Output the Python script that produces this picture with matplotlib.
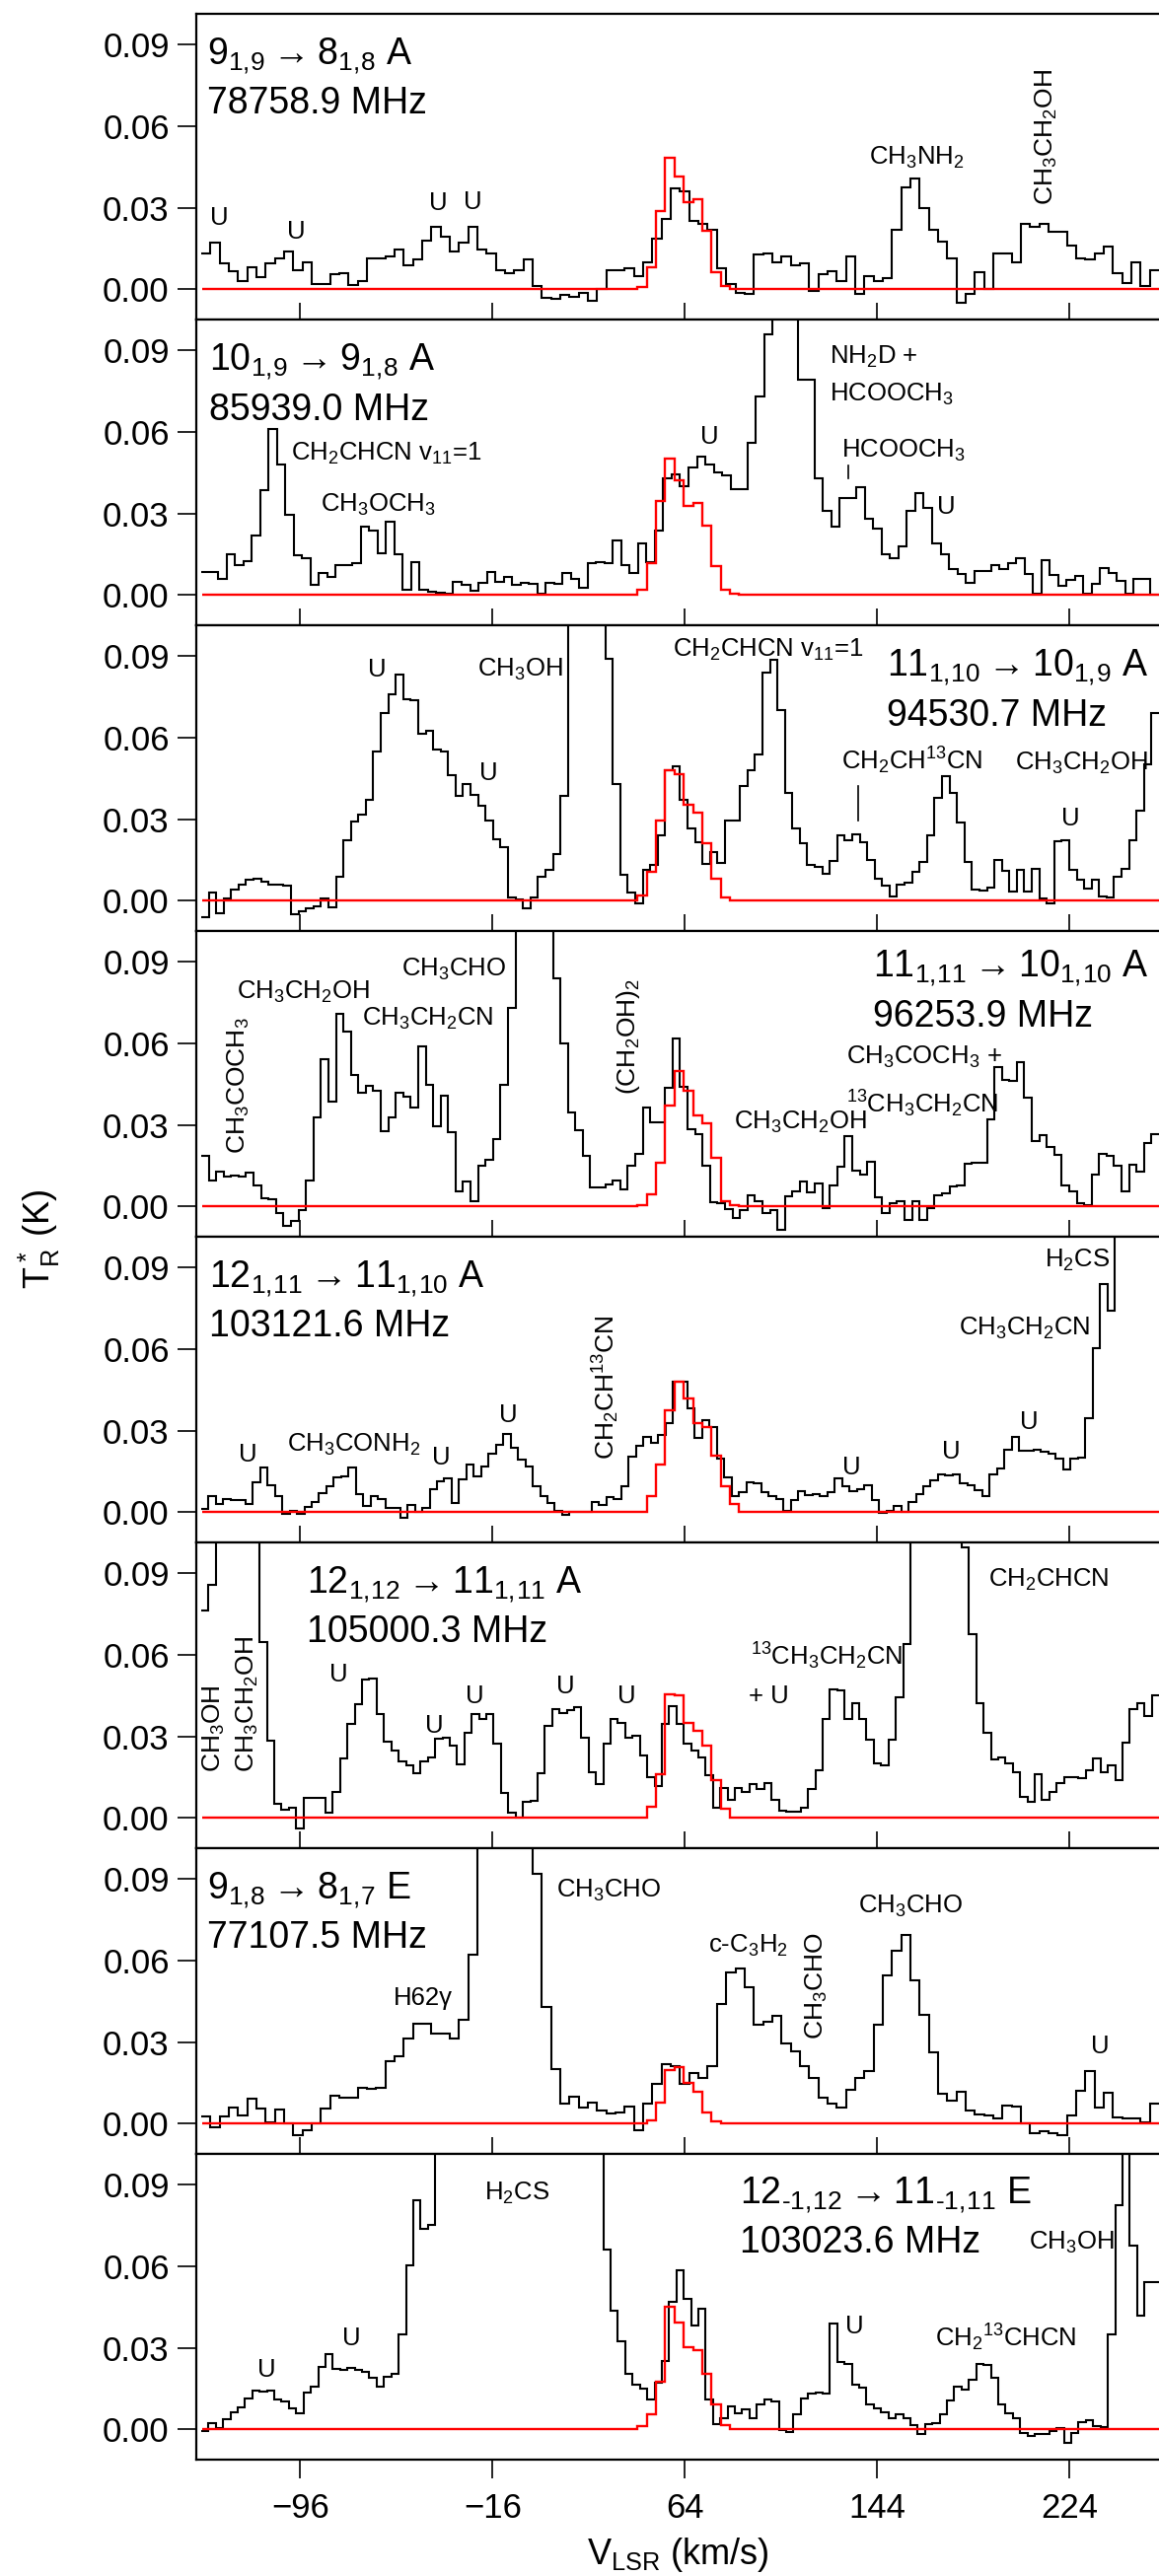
import numpy as np
import matplotlib
matplotlib.use('Agg')
import matplotlib.pyplot as plt

plt.rcParams['font.family'] = ['Liberation Sans', 'DejaVu Sans']
plt.rcParams['mathtext.default'] = 'regular'

# velocity span covered by the observed spectra and the axis window
V_LEFT, V_RIGHT = -137.2, 261.4
XLIM = (-139.4, 261.4)
YLIM = (-0.0111, 0.1012)
OFF = 0.15          # channels running off the top of a panel
MODEL_V0 = 44.35    # first model channel edge (km/s)
MODEL_DV = 3.85     # model channel width (km/s)

TITLES = [r'$9_{1,\!9} \rightarrow 8_{1,\!8}$ A', r'$10_{1,\!9} \rightarrow 9_{1,\!8}$ A',
          r'$11_{1,\!10} \rightarrow 10_{1,\!9}$ A', r'$11_{1,\!11} \rightarrow 10_{1,\!10}$ A',
          r'$12_{1,\!11} \rightarrow 11_{1,\!10}$ A', r'$12_{1,\!12} \rightarrow 11_{1,\!11}$ A',
          r'$9_{1,\!8} \rightarrow 8_{1,\!7}$ E', '$12_{‐1,\\!12} \\rightarrow 11_{‐1,\\!11}$ E']
FREQS = ['78758.9 MHz', '85939.0 MHz', '94530.7 MHz', '96253.9 MHz',
         '103121.6 MHz', '105000.3 MHz', '77107.5 MHz', '103023.6 MHz']

# observed T_R* (K), one value per channel, left to right
OBS_1 = [0.013, 0.017, 0.0097, 0.0065, 0.003, 0.008, 0.0045, 0.0097, 0.0115, 0.014,
         0.007, 0.010, 0.002, 0.002, 0.0055, 0.006, 0.0017, 0.003, 0.0115, 0.0115,
         0.012, 0.0145, 0.009, 0.011, 0.018, 0.023, 0.0195, 0.0138, 0.017, 0.023,
         0.0145, 0.013, 0.007, 0.006, 0.007, 0.011, 0.0012, -0.003, -0.0034, -0.002,
         -0.0028, -0.0012, -0.0042, 0.0002, 0.007, 0.007, 0.0077, 0.0048, 0.0099, 0.0187,
         0.026, 0.0372, 0.036, 0.025, 0.024, 0.0217, 0.0078, 0.002, -0.0012, -0.0016,
         0.0127, 0.0133, 0.010, 0.012, 0.0087, 0.0097, -0.0006, 0.0054, 0.0066, 0.003,
         0.012, -0.0018, 0.0048, 0.003, 0.004, 0.022, 0.0374, 0.0407, 0.030, 0.0217,
         0.0175, 0.0112, -0.0048, -0.0016, 0.0063, 0.000, 0.013, 0.0133, 0.010, 0.024,
         0.023, 0.024, 0.021, 0.021, 0.016, 0.0115, 0.011, 0.0133, 0.0157, 0.006,
         0.0024, 0.010, 0.0012, 0.007]
OBS_2 = [0.0085, 0.0085, 0.006, 0.015, 0.011, 0.0125, 0.022, 0.0385, 0.061, 0.048,
         0.0296, 0.0146, 0.0137, 0.0036, 0.008, 0.0067, 0.011, 0.011, 0.0118, 0.025,
         0.0236, 0.0155, 0.027, 0.015, 0.002, 0.012, 0.002, 0.0013, 0.001, 0.0006,
         0.005, 0.0037, 0.0016, 0.0046, 0.0085, 0.0048, 0.0067, 0.0036, 0.0046, 0.004,
         0.0004, 0.0046, 0.004, 0.008, 0.0058, 0.0028, 0.0118, 0.012, 0.0118, 0.020,
         0.011, 0.0082, 0.019, 0.012, 0.0236, 0.043, 0.0445, 0.040, 0.047, 0.051,
         0.048, 0.045, 0.044, 0.039, 0.039, 0.056, 0.073, 0.0956, OFF, OFF,
         OFF, 0.079, 0.079, 0.043, 0.031, 0.025, 0.0355, 0.0355, 0.0397, 0.028,
         0.0245, 0.015, 0.0134, 0.018, 0.031, 0.0376, 0.032, 0.019, 0.015, 0.0094,
         0.0076, 0.0046, 0.009, 0.009, 0.011, 0.0094, 0.0118, 0.0134, 0.0076, 0.0006,
         0.0128, 0.0072, 0.0034, 0.0054, 0.007, 0.0006, 0.0042, 0.010, 0.0082, 0.0052,
         0.0006, 0.006, 0.0058, 0.0]
OBS_3 = [-0.006, 0.003, -0.0045, 0.001, 0.0042, 0.006, 0.0078, 0.008, 0.007, 0.006,
         0.0058, 0.0054, -0.005, -0.004, -0.0027, -0.002, 0.0007, -0.0023, 0.0088, 0.0224,
         0.029, 0.0318, 0.037, 0.055, 0.069, 0.076, 0.083, 0.074, 0.0735, 0.0614,
         0.0624, 0.0555, 0.0548, 0.0463, 0.0385, 0.0427, 0.039, 0.035, 0.0294, 0.0227,
         0.0197, 0.0013, 0.0006, -0.0027, 0.0013, 0.009, 0.0115, 0.0173, 0.0387, OFF,
         OFF, OFF, OFF, OFF, 0.0888, 0.0427, 0.0094, 0.003, -0.001, 0.0115,
         0.013, 0.024, 0.048, 0.0493, 0.0369, 0.0264, 0.0215, 0.0134, 0.018, 0.0139,
         0.0296, 0.0294, 0.042, 0.048, 0.0538, 0.0838, 0.0886, 0.070, 0.0397, 0.0264,
         0.021, 0.013, 0.0125, 0.010, 0.0146, 0.024, 0.0224, 0.0245, 0.0215, 0.0149,
         0.0082, 0.0054, 0.0016, 0.006, 0.0066, 0.0106, 0.0143, 0.024, 0.0378, 0.0457,
         0.0397, 0.0288, 0.0143, 0.004, 0.0036, 0.0048, 0.0149, 0.011, 0.0034, 0.0115,
         0.0034, 0.0118, 0.001, -0.0008, 0.0219, 0.0221, 0.0112, 0.0076, 0.0046, 0.0076,
         0.0016, 0.0013, 0.0088, 0.0118, 0.0224, 0.033, 0.050, 0.069]
OBS_4 = [0.0185, 0.0097, 0.0127, 0.0109, 0.0115, 0.0109, 0.0124, 0.0079, 0.003, 0.0027,
         -0.0024, -0.0072, -0.0054, -0.0012, 0.0097, 0.0326, 0.054, 0.0387, 0.0709, 0.0644,
         0.0483, 0.0417, 0.0443, 0.0426, 0.0278, 0.0326, 0.0417, 0.0405, 0.0362, 0.0588,
         0.0447, 0.0296, 0.0407, 0.0272, 0.0057, 0.0091, 0.002, 0.0151, 0.0173, 0.0248,
         0.0447, 0.0728, OFF, OFF, OFF, OFF, OFF, 0.0839, 0.0598, 0.0344,
         0.0281, 0.0185, 0.0069, 0.0069, 0.0082, 0.0094, 0.0064, 0.0149, 0.0193, 0.0362,
         0.031, 0.031, 0.0435, 0.0616, 0.044, 0.0284, 0.0266, 0.0151, 0.0016, 0.0012,
         -0.0008, -0.0042, -0.0012, 0.004, 0.002, -0.0024, -0.0012, -0.0085, 0.0036, 0.0054,
         0.0091, 0.0052, 0.0085, -0.0006, 0.0079, 0.0145, 0.026, 0.0133, 0.0117, 0.0165,
         0.0033, -0.0024, 0.0012, 0.002, -0.0048, 0.0018, -0.0048, -0.0006, 0.0042, 0.0048,
         0.0073, 0.0079, 0.0157, 0.016, 0.016, 0.032, 0.0513, 0.0465, 0.0462, 0.053,
         0.0398, 0.0242, 0.0263, 0.0217, 0.019, 0.0079, 0.0054, 0.0012, 0.0006, 0.0117,
         0.0193, 0.0185, 0.0149, 0.0057, 0.0154, 0.0129, 0.0233, 0.0266]
OBS_5 = [0.0012, 0.006, 0.003, 0.0048, 0.0046, 0.0046, 0.003, 0.011, 0.0163, 0.0099,
         0.006, -0.0006, 0.0006, -0.0006, 0.0018, 0.0039, 0.007, 0.0097, 0.0127, 0.0133,
         0.0163, 0.0066, 0.0022, 0.0058, 0.0048, 0.0015, 0.0015, -0.0022, 0.0027, 0.0002,
         0.0015, 0.0085, 0.0115, 0.0123, 0.0034, 0.012, 0.0175, 0.0133, 0.0169, 0.0215,
         0.0248, 0.0287, 0.0236, 0.0193, 0.0167, 0.0094, 0.006, 0.0034, 0.0006, -0.001,
         0.0002, 0.0002, 0.0002, 0.0039, 0.0027, 0.0054, 0.0048, 0.0097, 0.0203, 0.0244,
         0.0278, 0.0254, 0.0284, 0.0329, 0.0481, 0.0481, 0.038, 0.0272, 0.0338, 0.0314,
         0.0196, 0.0127, 0.006, 0.0072, 0.0109, 0.0106, 0.0072, 0.006, 0.0048, 0.0006,
         0.0046, 0.0079, 0.0063, 0.0066, 0.006, 0.0072, 0.0123, 0.0097, 0.0079, 0.0085,
         0.0099, 0.0046, -0.0002, 0.0006, 0.0024, 0.0002, 0.0039, 0.0066, 0.0097, 0.0118,
         0.0139, 0.0135, 0.0139, 0.0106, 0.0099, 0.0082, 0.006, 0.0139, 0.016, 0.023,
         0.0275, 0.0227, 0.0227, 0.023, 0.0223, 0.0215, 0.0196, 0.0157, 0.0196, 0.0199,
         0.0344, 0.0604, 0.0839, 0.0739, OFF, OFF, OFF, OFF, OFF, OFF]
OBS_6 = [0.0761, 0.0857, OFF, OFF, OFF, OFF, OFF, OFF, 0.0646, 0.0284,
         0.0051, 0.003, 0.0036, -0.0039, 0.0072, 0.0075, 0.0072, 0.0018, 0.0094, 0.022,
         0.0344, 0.0417, 0.0507, 0.0513, 0.038, 0.028, 0.0248, 0.0208, 0.0193, 0.0163,
         0.0208, 0.0223, 0.0292, 0.0296, 0.0266, 0.0196, 0.0314, 0.038, 0.0365, 0.038,
         0.0272, 0.0091, 0.0021, 0.0002, 0.006, 0.0063, 0.0163, 0.034, 0.0401, 0.0386,
         0.0396, 0.0408, 0.0296, 0.0169, 0.0123, 0.0272, 0.0365, 0.0348, 0.0296, 0.0302,
         0.023, 0.0151, 0.0118, 0.0344, 0.0411, 0.0344, 0.0272, 0.0248, 0.0223, 0.0157,
         0.0036, 0.0111, 0.0066, 0.0109, 0.0094, 0.0123, 0.0106, 0.0127, 0.0066, 0.0027,
         0.0022, 0.0022, 0.0036, 0.0106, 0.0175, 0.0362, 0.0473, 0.0469, 0.0365, 0.0423,
         0.0365, 0.0287, 0.0199, 0.0193, 0.0287, 0.0444, 0.064, OFF, OFF, OFF,
         OFF, OFF, OFF, OFF, 0.0995, 0.0676, 0.0423, 0.0314, 0.0215, 0.0223,
         0.0199, 0.0167, 0.0079, 0.006, 0.016, 0.0066, 0.0094, 0.0127, 0.0151, 0.0151,
         0.0147, 0.0175, 0.0217, 0.0167, 0.0193, 0.0139, 0.0275, 0.0399, 0.042, 0.0374,
         0.045]
OBS_7 = [0.0027, -0.0014, 0.0027, 0.006, 0.003, 0.0091, 0.0054, 0.0006, 0.0051, 0.0002,
         -0.0042, -0.0024, 0.0, 0.0054, 0.0103, 0.0094, 0.0097, 0.0133, 0.0127, 0.013,
         0.023, 0.0248, 0.0314, 0.0368, 0.0368, 0.0332, 0.0332, 0.0314, 0.038, 0.0622,
         OFF, OFF, OFF, OFF, OFF, OFF, 0.0918, 0.0429, 0.0199, 0.0072,
         0.0099, 0.006, 0.0079, 0.0048, 0.0039, 0.0042, 0.0063, -0.0024, 0.0072, 0.0145,
         0.0217, 0.0211, 0.0145, 0.0187, 0.0167, 0.0211, 0.0441, 0.0556, 0.057, 0.0501,
         0.0362, 0.0374, 0.0395, 0.0296, 0.0266, 0.0211, 0.0167, 0.0097, 0.0072, 0.006,
         0.0123, 0.0167, 0.0193, 0.0365, 0.0546, 0.0634, 0.0694, 0.0525, 0.0399, 0.0263,
         0.0111, 0.0085, 0.0118, 0.0048, 0.0034, 0.003, 0.0018, 0.0066, 0.0063, 0.0,
         -0.0034, -0.0027, -0.0036, -0.0042, 0.003, 0.0121, 0.0193, 0.006, 0.0115, 0.0024,
         0.0018, 0.0018, 0.0006, 0.0072]
OBS_8 = [-0.0006, 0.0022, 0.0006, 0.0036, 0.0064, 0.0081, 0.0115, 0.0142, 0.014, 0.0142,
         0.0109, 0.0103, 0.0079, 0.0061, 0.0137, 0.0158, 0.0231, 0.0275, 0.0224, 0.0218,
         0.0227, 0.0218, 0.0212, 0.0191, 0.0158, 0.0194, 0.0203, 0.0348, 0.0603, 0.0841,
         0.0737, 0.0752, OFF, OFF, OFF, OFF, OFF, OFF, OFF, OFF,
         OFF, OFF, OFF, OFF, OFF, OFF, OFF, OFF, OFF, OFF,
         OFF, OFF, OFF, OFF, OFF, 0.0661, 0.0437, 0.0324, 0.0203, 0.0164,
         0.0149, 0.0109, 0.017, 0.0251, 0.0467, 0.0583, 0.0479, 0.0382, 0.0445, 0.0109,
         0.0021, 0.0042, 0.0085, 0.0061, 0.0073, 0.0042, 0.0091, 0.0109, 0.0101, -0.0004,
         -0.001, 0.0055, 0.0115, 0.013, 0.0137, 0.013, 0.0388, 0.0246, 0.0239, 0.0164,
         0.0155, 0.0091, 0.0079, 0.0064, 0.0042, 0.0057, 0.0042, 0.0016, -0.0018, 0.0021,
         0.0024, 0.0057, 0.0106, 0.0158, 0.0146, 0.0182, 0.0239, 0.0237, 0.0188, 0.0091,
         0.0061, 0.0042, -0.0012, -0.0024, -0.0018, -0.0016, -0.0006, 0.0006, -0.0049, -0.0012,
         0.0028, 0.0033, 0.0012, 0.0008, 0.0348, 0.0825, OFF, 0.0674, 0.0419, 0.054,
         0.054]

# model profiles (red), channels starting at MODEL_V0
MOD_1 = [0.001, 0.008, 0.0286, 0.0483, 0.0414, 0.032, 0.033, 0.0214, 0.0063, 0.0012, 0.0002]
MOD_2 = [0.0018, 0.0118, 0.0345, 0.050, 0.042, 0.0328, 0.034, 0.0255, 0.0106, 0.0018, 0.0006]
MOD_3 = [0.0018, 0.0106, 0.0294, 0.0478, 0.0466, 0.0354, 0.0324, 0.0213, 0.008, 0.0013, 0.0]
MOD_4 = [0.0006, 0.0045, 0.016, 0.037, 0.0497, 0.0426, 0.0335, 0.0306, 0.0179, 0.0018, 0.0006]
MOD_5 = [0.0002, 0.006, 0.0175, 0.0374, 0.048, 0.0417, 0.0326, 0.0314, 0.0209, 0.0097, 0.003, 0.0002]
MOD_6 = [0.0002, 0.004, 0.016, 0.0455, 0.045, 0.035, 0.032, 0.0266, 0.014, 0.0034, 0.0002]
MOD_7 = [0.0, 0.0012, 0.0079, 0.0196, 0.0208, 0.0151, 0.0118, 0.0042, 0.001, 0.0002]
MOD_8 = [0.0012, 0.0055, 0.0174, 0.0449, 0.0391, 0.0303, 0.0291, 0.0203, 0.0091, 0.0016]

OBS = [OBS_1, OBS_2, OBS_3, OBS_4, OBS_5, OBS_6, OBS_7, OBS_8]
MODS = [MOD_1, MOD_2, MOD_3, MOD_4, MOD_5, MOD_6, MOD_7, MOD_8]

# where the transition / frequency text goes (left edge, baselines)
TITLE_POS = [(-134.7, 0.0827, 0.0646), (-133.8, 0.0826, 0.0644), (148.3, 0.0826, 0.0644),
             (142.2, 0.0845, 0.0661), (-133.8, 0.0827, 0.0646), (-93.2, 0.0827, 0.0646),
             (-134.7, 0.0827, 0.0646), (86.8, 0.0831, 0.0649)]

# line identifications: text, v, T, ha, rotation
LABELS = [
    [('U', -129.5, 0.0235, 'center', 0), ('U', -97.8, 0.0187, 'center', 0),
     ('U', -38.7, 0.029, 'center', 0), ('U', -24.0, 0.0296, 'center', 0),
     (r'CH$_3$NH$_2$', 160.6, 0.0459, 'center', 0),
     (r'CH$_3$CH$_2$OH', 214.5, 0.031, 'center', 90)],
    [(r'CH$_2$CHCN v$_{11}$=1', -100.0, 0.0493, 'left', 0),
     (r'CH$_3$OCH$_3$', -87.7, 0.0306, 'left', 0),
     ('U', 74.5, 0.0554, 'center', 0),
     (r'NH$_2$D +', 124.3, 0.085, 'left', 0),
     (r'HCOOCH$_3$', 124.3, 0.0711, 'left', 0),
     (r'HCOOCH$_3$', 129.3, 0.0505, 'left', 0),
     ('U', 173.0, 0.030, 'center', 0)],
    [('U', -64.0, 0.0823, 'center', 0), (r'CH$_3$OH', -22.4, 0.0826, 'left', 0),
     ('U', -17.8, 0.0445, 'center', 0),
     (r'CH$_2$CHCN v$_{11}$=1', 59.1, 0.0898, 'left', 0),
     (r'CH$_2$CH$^{13}$CN', 129.3, 0.0481, 'left', 0),
     (r'CH$_3$CH$_2$OH', 201.3, 0.0481, 'left', 0),
     ('U', 224.7, 0.0276, 'center', 0)],
    [(r'CH$_3$COCH$_3$', -121.8, 0.0193, 'center', 90),
     (r'CH$_3$CH$_2$OH', -122.4, 0.0761, 'left', 0),
     (r'CH$_3$CHO', -53.8, 0.0845, 'left', 0),
     (r'CH$_3$CH$_2$CN', -70.1, 0.0664, 'left', 0),
     (r'(CH$_2$OH)$_2$', 40.6, 0.041, 'center', 90),
     (r'CH$_3$COCH$_3$ +', 131.4, 0.0525, 'left', 0),
     (r'$^{13}$CH$_3$CH$_2$CN', 131.4, 0.0344, 'left', 0),
     (r'CH$_3$CH$_2$OH', 84.6, 0.0284, 'left', 0)],
    [('U', -117.8, 0.0187, 'center', 0), (r'CH$_3$CONH$_2$', -101.5, 0.0223, 'left', 0),
     ('U', -37.2, 0.0175, 'center', 0), ('U', -9.5, 0.0332, 'center', 0),
     (r'CH$_2$CH$^{13}$CN', 31.4, 0.0193, 'center', 90),
     ('U', 133.6, 0.0139, 'center', 0), ('U', 175.1, 0.0196, 'center', 0),
     ('U', 207.4, 0.0304, 'center', 0),
     (r'CH$_3$CH$_2$CN', 178.2, 0.0652, 'left', 0),
     (r'H$_2$CS', 213.9, 0.090, 'left', 0)],
    [(r'CH$_3$OH', -131.7, 0.0169, 'center', 90),
     (r'CH$_3$CH$_2$OH', -117.8, 0.0169, 'center', 90),
     ('U', -80.0, 0.0501, 'center', 0), ('U', -40.3, 0.0314, 'center', 0),
     ('U', -23.4, 0.0423, 'center', 0), ('U', 14.5, 0.0459, 'center', 0),
     ('U', 39.7, 0.0423, 'center', 0),
     (r'$^{13}$CH$_3$CH$_2$CN', 91.4, 0.0562, 'left', 0),
     ('+ U', 90.5, 0.0423, 'left', 0),
     (r'CH$_2$CHCN', 190.5, 0.0851, 'left', 0)],
    [('H62γ', -57.2, 0.0435, 'left', 0), (r'CH$_3$CHO', 10.5, 0.0831, 'left', 0),
     (r'c-C$_3$H$_2$', 73.9, 0.0628, 'left', 0),
     (r'CH$_3$CHO', 119.1, 0.0308, 'center', 90),
     (r'CH$_3$CHO', 136.0, 0.0773, 'left', 0),
     ('U', 236.9, 0.026, 'center', 0)],
    [('U', -110.1, 0.0194, 'center', 0), ('U', -74.7, 0.031, 'center', 0),
     (r'H$_2$CS', -19.4, 0.0843, 'left', 0),
     (r'CH$_3$OH', 207.4, 0.0661, 'left', 0),
     ('U', 134.5, 0.0352, 'center', 0),
     (r'CH$_2$$^{13}$CHCN', 168.4, 0.0303, 'left', 0)],
]
# short vertical markers under some labels: panel, v, T from, T to
MARKERS = [(1, 132.3, 0.0429, 0.0475), (2, 136.0, 0.0294, 0.042)]

W, H = 1175, 2612
TOP_PX, PANEL_PX = 14, 310
LEFT = 198.6 / W


def model_steps(prof):
    n_left = int(round((MODEL_V0 - V_LEFT) / MODEL_DV))
    start = MODEL_V0 - n_left * MODEL_DV
    n_right = int(np.ceil((V_RIGHT - MODEL_V0) / MODEL_DV)) - len(prof) + 1
    vals = np.concatenate([np.zeros(n_left), prof, np.zeros(n_right)])
    edges = start + MODEL_DV * np.arange(len(vals) + 1)
    return vals, edges


fig = plt.figure(figsize=(W / 100, H / 100), dpi=100)

for i in range(8):
    bottom = 1 - (TOP_PX + PANEL_PX * (i + 1)) / H
    ax = fig.add_axes([LEFT, bottom, 1 - LEFT, PANEL_PX / H])

    obs = np.array(OBS[i])
    edges = np.linspace(V_LEFT, V_RIGHT, len(obs) + 1)
    ax.stairs(obs, edges, baseline=None, color='black', linewidth=1.5, zorder=2)
    mv, me = model_steps(MODS[i])
    ax.stairs(mv, me, baseline=None, color='red', linewidth=1.7, zorder=3)

    ax.set_xlim(*XLIM)
    ax.set_ylim(*YLIM)
    ax.set_yticks([0.0, 0.03, 0.06, 0.09])
    ax.set_yticklabels(['0.00', '0.03', '0.06', '0.09'])
    ax.set_xticks([-96, -16, 64, 144, 224])
    for s in ['top', 'bottom', 'left']:
        ax.spines[s].set_linewidth(1.6)
    ax.spines['right'].set_visible(False)
    ax.tick_params(axis='y', direction='out', length=13.4, width=1.2, pad=6, labelsize=25)
    if i < 7:
        ax.tick_params(axis='x', direction='in', length=12, width=1.2, labelbottom=False)
    else:
        ax.tick_params(axis='x', direction='out', length=13.5, width=1.2, pad=10, labelsize=25)

    tv, ty, fy = TITLE_POS[i]
    ax.text(tv, ty, TITLES[i], fontsize=27, ha='left', va='baseline')
    ax.text(tv, fy, FREQS[i], fontsize=27, ha='left', va='baseline')

    for txt, v, t, ha, rot in LABELS[i]:
        if rot:
            ax.text(v, t, txt, fontsize=19, ha='center', va='bottom', rotation=90)
        else:
            ax.text(v, t, txt, fontsize=18.5, ha=ha, va='baseline')

    for p, v, t0, t1 in MARKERS:
        if p == i:
            ax.plot([v, v], [t0, t1], color='black', linewidth=1.2)

fig.text(0.034, 0.519, r'$T_R^*$ (K)', rotation=90, fontsize=26, ha='center', va='center')
fig.text(0.585, 1 - 2600 / H, r'$V_{LSR}$ (km/s)', fontsize=26, ha='center', va='baseline')

fig.savefig('out.png', dpi=100)
